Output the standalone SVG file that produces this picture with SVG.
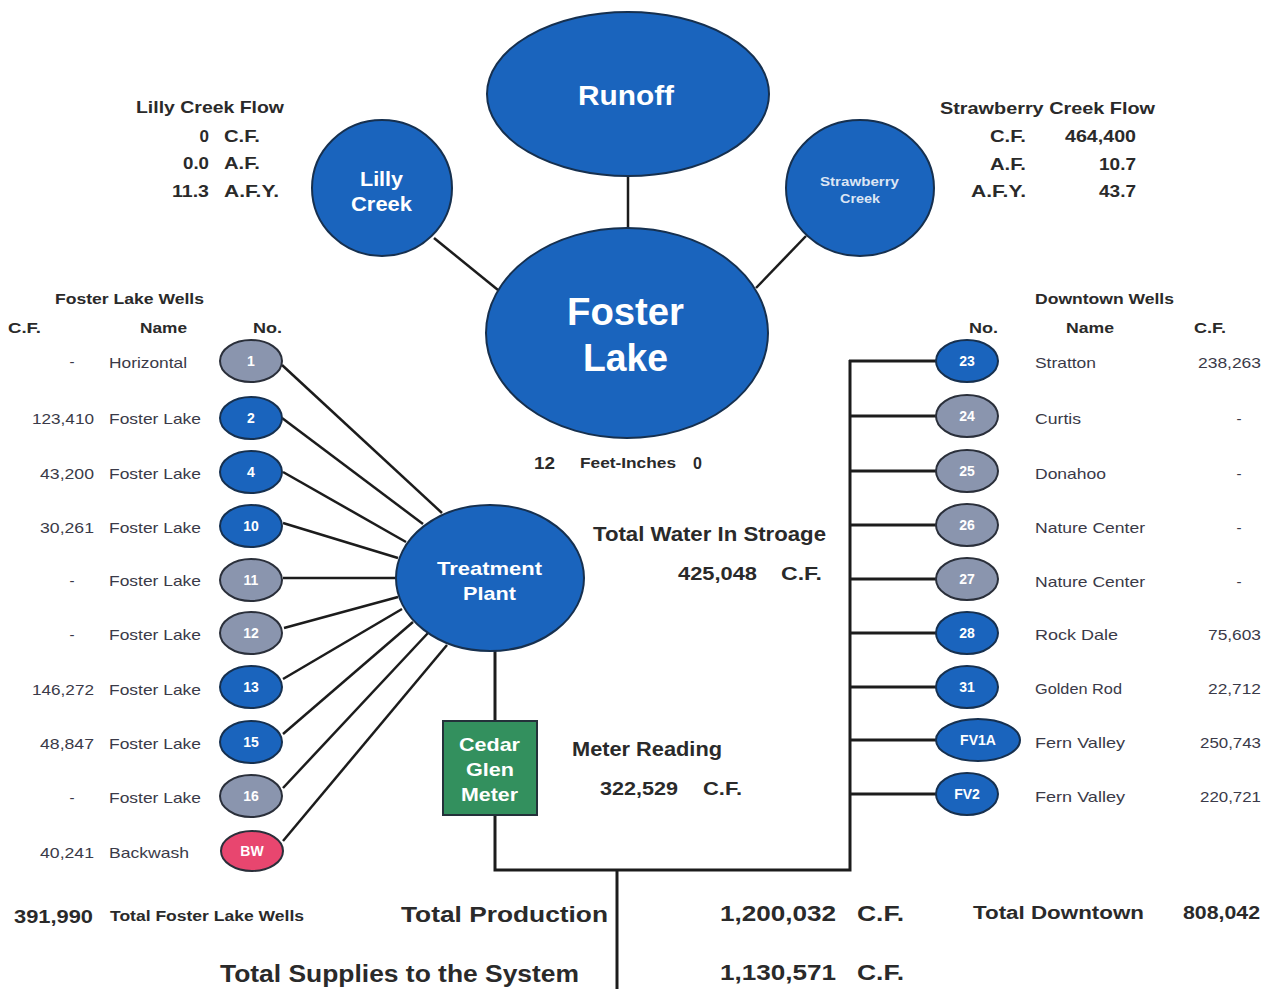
<svg xmlns="http://www.w3.org/2000/svg" width="1264" height="989" viewBox="0 0 1264 989">
<style>
.bg{fill:#ffffff}
.blue{fill:#1a64bd;stroke:#16304f;stroke-width:2}
.gray{fill:#8a95ae;stroke:#2a2f3a;stroke-width:2}
.pink{fill:#e8466f;stroke:#2a2f3a;stroke-width:2}
.green{fill:#33905e;stroke:#24313a;stroke-width:2}
.ln{stroke:#1c1c1c;stroke-width:2.5;fill:none}
.bus{stroke:#1c1c1c;stroke-width:3;fill:none}
.w{fill:#ffffff;font-family:"Liberation Sans",Arial,sans-serif;font-weight:bold}
.wn{fill:#ffffff;font-family:"Liberation Sans",Arial,sans-serif;font-weight:bold;font-size:14px;text-anchor:middle}
.t{fill:#2a2a2a;font-family:"Liberation Sans",Arial,sans-serif;font-weight:bold}
.r{fill:#3a3a48;font-family:"Liberation Sans",Arial,sans-serif;font-size:15px}
.e{text-anchor:end}
.m{text-anchor:middle}
</style>
<rect class="bg" x="0" y="0" width="1264" height="989"/>

<g id="connectors">
  <line class="ln" x1="628" y1="175" x2="628" y2="229"/>
  <line class="ln" x1="434" y1="238" x2="498" y2="290"/>
  <line class="ln" x1="806" y1="236" x2="756" y2="288"/>
  <line class="ln" x1="282" y1="365" x2="442" y2="513"/>
  <line class="ln" x1="282" y1="418" x2="423" y2="524"/>
  <line class="ln" x1="283" y1="472" x2="406" y2="542"/>
  <line class="ln" x1="283" y1="523" x2="398" y2="558"/>
  <line class="ln" x1="283" y1="578" x2="397" y2="578"/>
  <line class="ln" x1="284" y1="628" x2="398" y2="597"/>
  <line class="ln" x1="283" y1="679" x2="402" y2="609"/>
  <line class="ln" x1="283" y1="734" x2="413" y2="622"/>
  <line class="ln" x1="283" y1="788" x2="428" y2="633"/>
  <line class="ln" x1="283" y1="841" x2="447" y2="645"/>
  <line class="bus" x1="495" y1="650" x2="495" y2="721"/>
  <polyline class="bus" points="495,815 495,870 850,870 850,360"/>
  <line class="bus" x1="849" y1="361" x2="937" y2="361"/>
  <line class="bus" x1="849" y1="416" x2="937" y2="416"/>
  <line class="bus" x1="849" y1="471" x2="937" y2="471"/>
  <line class="bus" x1="849" y1="525" x2="937" y2="525"/>
  <line class="bus" x1="849" y1="579" x2="937" y2="579"/>
  <line class="bus" x1="849" y1="633" x2="937" y2="633"/>
  <line class="bus" x1="849" y1="687" x2="937" y2="687"/>
  <line class="bus" x1="849" y1="740" x2="937" y2="740"/>
  <line class="bus" x1="849" y1="794" x2="937" y2="794"/>
  <line class="bus" x1="617" y1="870" x2="617" y2="989"/>
</g>

<g id="runoff">
  <ellipse class="blue" cx="628" cy="94" rx="141" ry="82"/>
  <text class="w" x="578" y="105" font-size="28" textLength="96" lengthAdjust="spacingAndGlyphs">Runoff</text>
</g>
<g id="lilly-creek">
  <ellipse class="blue" cx="382" cy="188" rx="70" ry="68"/>
  <text class="w" x="360" y="186" font-size="20" textLength="43" lengthAdjust="spacingAndGlyphs">Lilly</text>
  <text class="w" x="351" y="211" font-size="20" textLength="61" lengthAdjust="spacingAndGlyphs">Creek</text>
</g>
<g id="strawberry-creek">
  <ellipse class="blue" cx="860" cy="188" rx="74" ry="68"/>
  <text class="w" x="820" y="186" font-size="12" textLength="79" lengthAdjust="spacingAndGlyphs" fill-opacity="0.85">Strawberry</text>
  <text class="w" x="840" y="203" font-size="12" textLength="40" lengthAdjust="spacingAndGlyphs" fill-opacity="0.85">Creek</text>
</g>
<g id="foster-lake">
  <ellipse class="blue" cx="627" cy="333" rx="141" ry="105"/>
  <text class="w" x="567" y="325" font-size="38" textLength="117" lengthAdjust="spacingAndGlyphs">Foster</text>
  <text class="w" x="583" y="371" font-size="38" textLength="85" lengthAdjust="spacingAndGlyphs">Lake</text>
</g>
<g id="treatment-plant">
  <ellipse class="blue" cx="490" cy="578" rx="94" ry="73"/>
  <text class="w" x="437" y="575" font-size="19" textLength="105" lengthAdjust="spacingAndGlyphs">Treatment</text>
  <text class="w" x="463" y="600" font-size="19" textLength="53" lengthAdjust="spacingAndGlyphs">Plant</text>
</g>
<g id="cedar-glen-meter">
  <rect class="green" x="443" y="721" width="94" height="94"/>
  <text class="w" x="459" y="751" font-size="19" textLength="61" lengthAdjust="spacingAndGlyphs">Cedar</text>
  <text class="w" x="466" y="776" font-size="19" textLength="48" lengthAdjust="spacingAndGlyphs">Glen</text>
  <text class="w" x="461" y="801" font-size="19" textLength="57" lengthAdjust="spacingAndGlyphs">Meter</text>
</g>

<g id="lilly-flow">
  <text class="t" x="136" y="113" font-size="17" textLength="148" lengthAdjust="spacingAndGlyphs">Lilly Creek Flow</text>
  <text class="t e" x="209" y="142" font-size="17">0</text>
  <text class="t" x="224" y="142" font-size="17" textLength="36" lengthAdjust="spacingAndGlyphs">C.F.</text>
  <text class="t" x="183" y="169" font-size="17" textLength="26" lengthAdjust="spacingAndGlyphs">0.0</text>
  <text class="t" x="224" y="169" font-size="17" textLength="36" lengthAdjust="spacingAndGlyphs">A.F.</text>
  <text class="t" x="172" y="197" font-size="17" textLength="37" lengthAdjust="spacingAndGlyphs">11.3</text>
  <text class="t" x="224" y="197" font-size="17" textLength="55" lengthAdjust="spacingAndGlyphs">A.F.Y.</text>
</g>
<g id="strawberry-flow">
  <text class="t" x="940" y="114" font-size="17" textLength="215" lengthAdjust="spacingAndGlyphs">Strawberry Creek Flow</text>
  <text class="t" x="990" y="142" font-size="17" textLength="36" lengthAdjust="spacingAndGlyphs">C.F.</text>
  <text class="t" x="1065" y="142" font-size="17" textLength="71" lengthAdjust="spacingAndGlyphs">464,400</text>
  <text class="t" x="990" y="170" font-size="17" textLength="36" lengthAdjust="spacingAndGlyphs">A.F.</text>
  <text class="t" x="1099" y="170" font-size="17" textLength="37" lengthAdjust="spacingAndGlyphs">10.7</text>
  <text class="t" x="971" y="197" font-size="17" textLength="55" lengthAdjust="spacingAndGlyphs">A.F.Y.</text>
  <text class="t" x="1099" y="197" font-size="17" textLength="37" lengthAdjust="spacingAndGlyphs">43.7</text>
</g>

<g id="foster-lake-wells-header">
  <text class="t" x="55" y="304" font-size="15" textLength="149" lengthAdjust="spacingAndGlyphs">Foster Lake Wells</text>
  <text class="t" x="8" y="333" font-size="15" textLength="33" lengthAdjust="spacingAndGlyphs">C.F.</text>
  <text class="t" x="140" y="333" font-size="15" textLength="47" lengthAdjust="spacingAndGlyphs">Name</text>
  <text class="t" x="253" y="333" font-size="15" textLength="29" lengthAdjust="spacingAndGlyphs">No.</text>
</g>

<g id="well-1"><ellipse class="gray" cx="251" cy="361" rx="31" ry="21"/><text class="wn" x="251" y="366">1</text>
  <text class="r m" x="72" y="367">-</text><text class="r" x="109" y="368" textLength="78" lengthAdjust="spacingAndGlyphs">Horizontal</text></g>
<g id="well-2"><ellipse class="blue" cx="251" cy="418" rx="31" ry="21"/><text class="wn" x="251" y="423">2</text>
  <text class="r" x="32" y="424" textLength="62" lengthAdjust="spacingAndGlyphs">123,410</text><text class="r" x="109" y="424" textLength="92" lengthAdjust="spacingAndGlyphs">Foster Lake</text></g>
<g id="well-4"><ellipse class="blue" cx="251" cy="472" rx="31" ry="21"/><text class="wn" x="251" y="477">4</text>
  <text class="r" x="40" y="479" textLength="54" lengthAdjust="spacingAndGlyphs">43,200</text><text class="r" x="109" y="479" textLength="92" lengthAdjust="spacingAndGlyphs">Foster Lake</text></g>
<g id="well-10"><ellipse class="blue" cx="251" cy="526" rx="31" ry="21"/><text class="wn" x="251" y="531">10</text>
  <text class="r" x="40" y="533" textLength="54" lengthAdjust="spacingAndGlyphs">30,261</text><text class="r" x="109" y="533" textLength="92" lengthAdjust="spacingAndGlyphs">Foster Lake</text></g>
<g id="well-11"><ellipse class="gray" cx="251" cy="580" rx="31" ry="21"/><text class="wn" x="251" y="585">11</text>
  <text class="r m" x="72" y="586">-</text><text class="r" x="109" y="586" textLength="92" lengthAdjust="spacingAndGlyphs">Foster Lake</text></g>
<g id="well-12"><ellipse class="gray" cx="251" cy="633" rx="31" ry="21"/><text class="wn" x="251" y="638">12</text>
  <text class="r m" x="72" y="640">-</text><text class="r" x="109" y="640" textLength="92" lengthAdjust="spacingAndGlyphs">Foster Lake</text></g>
<g id="well-13"><ellipse class="blue" cx="251" cy="687" rx="31" ry="21"/><text class="wn" x="251" y="692">13</text>
  <text class="r" x="32" y="695" textLength="62" lengthAdjust="spacingAndGlyphs">146,272</text><text class="r" x="109" y="695" textLength="92" lengthAdjust="spacingAndGlyphs">Foster Lake</text></g>
<g id="well-15"><ellipse class="blue" cx="251" cy="742" rx="31" ry="21"/><text class="wn" x="251" y="747">15</text>
  <text class="r" x="40" y="749" textLength="54" lengthAdjust="spacingAndGlyphs">48,847</text><text class="r" x="109" y="749" textLength="92" lengthAdjust="spacingAndGlyphs">Foster Lake</text></g>
<g id="well-16"><ellipse class="gray" cx="251" cy="796" rx="31" ry="21"/><text class="wn" x="251" y="801">16</text>
  <text class="r m" x="72" y="803">-</text><text class="r" x="109" y="803" textLength="92" lengthAdjust="spacingAndGlyphs">Foster Lake</text></g>
<g id="well-bw"><ellipse class="pink" cx="252" cy="851" rx="31" ry="20"/><text class="wn" x="252" y="856">BW</text>
  <text class="r" x="40" y="858" textLength="54" lengthAdjust="spacingAndGlyphs">40,241</text><text class="r" x="109" y="858" textLength="80" lengthAdjust="spacingAndGlyphs">Backwash</text></g>

<g id="downtown-wells-header">
  <text class="t" x="1035" y="304" font-size="15" textLength="139" lengthAdjust="spacingAndGlyphs">Downtown Wells</text>
  <text class="t" x="969" y="333" font-size="15" textLength="29" lengthAdjust="spacingAndGlyphs">No.</text>
  <text class="t" x="1066" y="333" font-size="15" textLength="48" lengthAdjust="spacingAndGlyphs">Name</text>
  <text class="t" x="1194" y="333" font-size="15" textLength="32" lengthAdjust="spacingAndGlyphs">C.F.</text>
</g>

<g id="well-23"><ellipse class="blue" cx="967" cy="361" rx="31" ry="21"/><text class="wn" x="967" y="366">23</text>
  <text class="r" x="1035" y="368" textLength="61" lengthAdjust="spacingAndGlyphs">Stratton</text><text class="r" x="1198" y="368" textLength="63" lengthAdjust="spacingAndGlyphs">238,263</text></g>
<g id="well-24"><ellipse class="gray" cx="967" cy="416" rx="31" ry="21"/><text class="wn" x="967" y="421">24</text>
  <text class="r" x="1035" y="424" textLength="46" lengthAdjust="spacingAndGlyphs">Curtis</text><text class="r m" x="1239" y="424">-</text></g>
<g id="well-25"><ellipse class="gray" cx="967" cy="471" rx="31" ry="21"/><text class="wn" x="967" y="476">25</text>
  <text class="r" x="1035" y="479" textLength="71" lengthAdjust="spacingAndGlyphs">Donahoo</text><text class="r m" x="1239" y="479">-</text></g>
<g id="well-26"><ellipse class="gray" cx="967" cy="525" rx="31" ry="21"/><text class="wn" x="967" y="530">26</text>
  <text class="r" x="1035" y="533" textLength="110" lengthAdjust="spacingAndGlyphs">Nature Center</text><text class="r m" x="1239" y="533">-</text></g>
<g id="well-27"><ellipse class="gray" cx="967" cy="579" rx="31" ry="21"/><text class="wn" x="967" y="584">27</text>
  <text class="r" x="1035" y="587" textLength="110" lengthAdjust="spacingAndGlyphs">Nature Center</text><text class="r m" x="1239" y="587">-</text></g>
<g id="well-28"><ellipse class="blue" cx="967" cy="633" rx="31" ry="21"/><text class="wn" x="967" y="638">28</text>
  <text class="r" x="1035" y="640" textLength="83" lengthAdjust="spacingAndGlyphs">Rock Dale</text><text class="r" x="1208" y="640" textLength="53" lengthAdjust="spacingAndGlyphs">75,603</text></g>
<g id="well-31"><ellipse class="blue" cx="967" cy="687" rx="31" ry="21"/><text class="wn" x="967" y="692">31</text>
  <text class="r" x="1035" y="694" textLength="87" lengthAdjust="spacingAndGlyphs">Golden Rod</text><text class="r" x="1208" y="694" textLength="53" lengthAdjust="spacingAndGlyphs">22,712</text></g>
<g id="well-fv1a"><ellipse class="blue" cx="978" cy="740" rx="42" ry="21"/><text class="wn" x="978" y="745">FV1A</text>
  <text class="r" x="1035" y="748" textLength="90" lengthAdjust="spacingAndGlyphs">Fern Valley</text><text class="r" x="1200" y="748" textLength="61" lengthAdjust="spacingAndGlyphs">250,743</text></g>
<g id="well-fv2"><ellipse class="blue" cx="967" cy="794" rx="31" ry="21"/><text class="wn" x="967" y="799" font-size="13">FV2</text>
  <text class="r" x="1035" y="802" textLength="90" lengthAdjust="spacingAndGlyphs">Fern Valley</text><text class="r" x="1200" y="802" textLength="61" lengthAdjust="spacingAndGlyphs">220,721</text></g>

<g id="lake-level">
  <text class="t" x="534" y="469" font-size="16" textLength="21" lengthAdjust="spacingAndGlyphs">12</text>
  <text class="t" x="580" y="468" font-size="15" textLength="96" lengthAdjust="spacingAndGlyphs">Feet-Inches</text>
  <text class="t" x="693" y="469" font-size="16">0</text>
</g>
<g id="storage">
  <text class="t" x="593" y="541" font-size="20" textLength="233" lengthAdjust="spacingAndGlyphs">Total Water In Stroage</text>
  <text class="t" x="678" y="580" font-size="19" textLength="79" lengthAdjust="spacingAndGlyphs">425,048</text>
  <text class="t" x="781" y="580" font-size="19" textLength="41" lengthAdjust="spacingAndGlyphs">C.F.</text>
</g>
<g id="meter">
  <text class="t" x="572" y="756" font-size="20" textLength="150" lengthAdjust="spacingAndGlyphs">Meter Reading</text>
  <text class="t" x="600" y="795" font-size="19" textLength="78" lengthAdjust="spacingAndGlyphs">322,529</text>
  <text class="t" x="703" y="795" font-size="19" textLength="39" lengthAdjust="spacingAndGlyphs">C.F.</text>
</g>
<g id="totals">
  <text class="t" x="14" y="923" font-size="18" textLength="79" lengthAdjust="spacingAndGlyphs">391,990</text>
  <text class="t" x="110" y="921" font-size="14" textLength="194" lengthAdjust="spacingAndGlyphs">Total Foster Lake Wells</text>
  <text class="t" x="401" y="922" font-size="22" textLength="207" lengthAdjust="spacingAndGlyphs">Total Production</text>
  <text class="t" x="720" y="921" font-size="22" textLength="116" lengthAdjust="spacingAndGlyphs">1,200,032</text>
  <text class="t" x="857" y="921" font-size="22" textLength="47" lengthAdjust="spacingAndGlyphs">C.F.</text>
  <text class="t" x="973" y="919" font-size="18" textLength="171" lengthAdjust="spacingAndGlyphs">Total Downtown</text>
  <text class="t" x="1183" y="919" font-size="18" textLength="77" lengthAdjust="spacingAndGlyphs">808,042</text>
  <text class="t" x="220" y="982" font-size="23" textLength="359" lengthAdjust="spacingAndGlyphs">Total Supplies to the System</text>
  <text class="t" x="720" y="980" font-size="22" textLength="116" lengthAdjust="spacingAndGlyphs">1,130,571</text>
  <text class="t" x="857" y="980" font-size="22" textLength="47" lengthAdjust="spacingAndGlyphs">C.F.</text>
</g>
</svg>
